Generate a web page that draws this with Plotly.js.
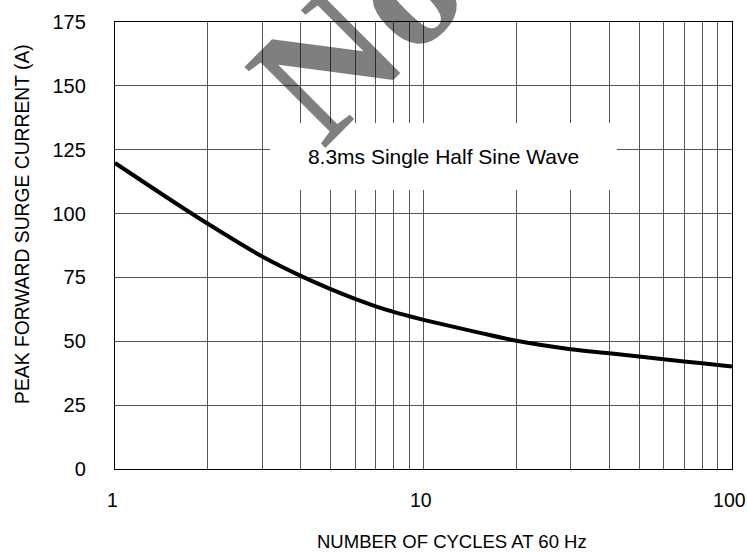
<!DOCTYPE html>
<html>
<head>
<meta charset="utf-8">
<script src="https://cdn.plot.ly/plotly-3.0.1.min.js"></script>
<style>html,body{margin:0;padding:0;background:#fff}#chart{width:747px;height:553px}</style>
</head>
<body>
<div id="chart"></div>
<script>
// Data
const cycles = [1, 1.5, 2, 3, 4, 5, 6, 7, 8, 9, 10, 15, 20, 30, 40, 50, 60, 70, 80, 90, 100];
const surgeCurrent = [119.8, 105.7, 96.0, 83.2, 75.6, 70.4, 66.6, 63.7, 61.5, 59.8, 58.4, 53.5, 50.2, 46.9, 45.3, 44.0, 43.0, 42.1, 41.4, 40.7, 40.1];
const xTitle = 'NUMBER OF CYCLES AT 60 Hz';
const yTitle = 'PEAK FORWARD SURGE CURRENT (A)';
const noteText = '8.3ms Single Half Sine Wave';
const watermarkText = 'No';

const FONT = 'Arial, "Liberation Sans", sans-serif';
const GRID = '#555555';

const trace = {
  x: cycles,
  y: surgeCurrent,
  type: 'scatter',
  mode: 'lines',
  line: {color: '#000000', width: 4, shape: 'spline', smoothing: 1},
  hoverinfo: 'skip',
  showlegend: false
};

const layout = {
  width: 747,
  height: 553,
  margin: {l: 115, r: 15, t: 22, b: 84, pad: 0},
  paper_bgcolor: '#ffffff',
  plot_bgcolor: '#ffffff',
  font: {family: FONT, color: '#000000', size: 20},
  showlegend: false,
  xaxis: {
    type: 'log',
    range: [0, 2],
    dtick: 1,
    tick0: 0,
    ticksuffix: '\u00a0',
    showgrid: true,
    gridcolor: GRID,
    gridwidth: 1,
    minor: {dtick: 'D1', showgrid: true, gridcolor: GRID, gridwidth: 1, ticks: ''},
    showline: true,
    linecolor: '#000000',
    linewidth: 1.2,
    mirror: true,
    zeroline: false,
    ticks: 'outside',
    ticklen: 13,
    tickcolor: 'rgba(0,0,0,0)',
    ticklabeloverflow: 'allow',
    tickfont: {family: FONT, size: 19.5, color: '#000000'}
  },
  yaxis: {
    range: [0, 175],
    dtick: 25,
    tick0: 0,
    showgrid: true,
    gridcolor: GRID,
    gridwidth: 1,
    showline: true,
    linecolor: '#000000',
    linewidth: 1.2,
    mirror: true,
    zeroline: false,
    ticks: 'outside',
    ticklen: 24,
    tickcolor: 'rgba(0,0,0,0)',
    ticklabeloverflow: 'allow',
    tickfont: {family: FONT, size: 20, color: '#000000'}
  },
  annotations: [
    {
      text: noteText,
      xref: 'paper', yref: 'paper',
      x: 0.5324, y: 0.699,
      xanchor: 'center', yanchor: 'middle',
      width: 347, height: 67,
      bgcolor: '#ffffff',
      borderpad: 0, borderwidth: 0,
      showarrow: false,
      font: {family: FONT, size: 21, color: '#000000'}
    },
    {
      text: xTitle,
      xref: 'paper', yref: 'paper',
      x: 0.546, y: -0.163,
      xanchor: 'center', yanchor: 'middle',
      showarrow: false,
      font: {family: FONT, size: 18.5, color: '#000000'}
    },
    {
      text: yTitle,
      xref: 'paper', yref: 'paper',
      x: -0.151, y: 0.548,
      xanchor: 'center', yanchor: 'middle',
      textangle: -90,
      showarrow: false,
      font: {family: FONT, size: 19.3, color: '#000000'}
    },
    {
      text: watermarkText,
      xref: 'paper', yref: 'paper',
      x: 0.392, y: 0.975,
      xanchor: 'center', yanchor: 'middle',
      textangle: -45,
      showarrow: false,
      font: {family: '"Liberation Serif", "DejaVu Serif", serif', size: 175, weight: 'bold', color: 'rgba(0,0,0,0.5)'}
    }
  ]
};

Plotly.newPlot('chart', [trace], layout, {staticPlot: true, displayModeBar: false});
</script>
</body>
</html>
